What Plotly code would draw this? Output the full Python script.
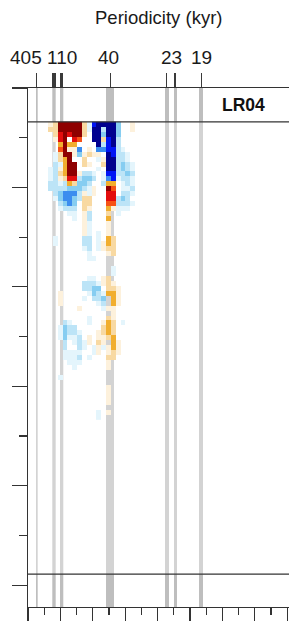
import plotly.graph_objects as go

# ---------------- data ----------------
# evolutive spectrum cells: one string per time row (top -> bottom), one char per frequency bin
# N/B/M/C/c/b = negative levels (-6..-1), y/o/O/r/R/D = positive levels (+1..+6), '.' = empty
rows = [
    "yoDDDDDobBNNNNC..y.",
    "ooDDDDDobNNcNNC..y.",
    ".oRDRDDo.NNCNNC....",
    ".yRD.Rr..NNoBNc....",
    "..ODOO....NcBNc....",
    "..rDyyM.y.MMBBcb...",
    ".boDDyCyoyy.NBccb..",
    ".boOD..o..byNNccb..",
    ".cbODD.oy..oNNcCcb.",
    "bcyODD....b.NNcCcb.",
    "bcoODDyccb.bBBccCc.",
    "bcyoRRcCCc.bMBbccb.",
    "ccbcOoCCc..cOO.bcb.",
    "ccccCCCcby..Dr.bbc.",
    ".cCMMMcyby..RR.ccb.",
    ".bCMMCcoo...RRcCc..",
    "..cCMC.oo...rrcccb.",
    "..bccc.oy...Oybbb..",
    "....bb.yc...o.b....",
    ".....b.yc...O......",
    ".......yb...y......",
    ".......yb...y......",
    ".......yb.b.y......",
    ".b.....cc.b.Oo.....",
    ".b.....cc.byOo.....",
    ".......bc.byoo.....",
    "........b...yo.....",
    "........bb.........",
    "...................",
    ".............b.....",
    ".............b.....",
    "........bb.yo......",
    ".......cccbyoy.....",
    ".......ccCC.ooy....",
    "..y.....bCcbOOy....",
    "..y....b.ccC.Oy....",
    "..y.......bc.Oy....",
    "......y....byy.....",
    ".............y.....",
    "........b...oy.....",
    "...cb...b..yOo.b...",
    "..bCcc.....oOo.....",
    "..bCccb...yoOo.....",
    "..bCbbc.y.yyoO.....",
    "...c.bcby.oy.Oy....",
    "...c..cb.bybyOy....",
    "...bbbb..by.yoy....",
    "...bbbc.b...oo.....",
    "....bbb.....y......",
    ".....b......y......",
    "...................",
    "..b................",
    "...................",
    "............y......",
    "............y......",
    "............y......",
    "............y......",
    "...................",
    "..........b.y......",
    "..........b........",
]
level_of = {'N': -6, 'B': -5, 'M': -4, 'C': -3, 'c': -2, 'b': -1,
            'y': 1, 'o': 2, 'O': 3, 'r': 4, 'R': 5, 'D': 6}
n_bins = 19
freq_first = 0.006810   # cycles/kyr, centre of first frequency bin
freq_step = 0.001473
age_first = 0.365       # centre of first time row
age_step = 0.05

# orbital periods (kyr) marked on the top axis
tick_periods = [405, 134, 128, 123, 118, 102, 98, 94.5, 40, 23.7, 22.4, 19]
label_text = ["405", "110", "40", "23", "19"]
label_periods = [405, 110, 40, 23, 19]
label_shift = [-10, 4, -2, 0, 0]

# shaded orbital bands (cycles/kyr)
band_lo = [0.00243, 0.00738, 0.00972, 0.02369, 0.04160, 0.04434, 0.05193]
band_hi = [0.00295, 0.00841, 0.01072, 0.02612, 0.04282, 0.04525, 0.05314]

panel_label = "LR04"
strip_top_end = 0.34
strip_bottom_start = 4.89
y_max = 5.22
f_max = 0.07926

# ---------------- build figure ----------------
z = [[level_of.get(ch) for ch in r.ljust(n_bins, '.')[:n_bins]] for r in rows]

palette = ["#00008F", "#0014F5", "#3C8DEF", "#86CDF1", "#BCE4F7", "#E4F5FC",
           "#FFFFFF",
           "#FDF1DC", "#F8D9A2", "#F1AE2F", "#F65216", "#E30D0D", "#8E0000"]
cs = []
for i, c in enumerate(palette):
    cs.append([i / 13, c])
    cs.append([(i + 1) / 13, c])

fig = go.Figure()
fig.add_trace(go.Heatmap(
    z=z, x0=freq_first, dx=freq_step, y0=age_first, dy=age_step,
    colorscale=cs, zmin=-6.5, zmax=6.5, showscale=False, hoverinfo="skip",
))
fig.add_trace(go.Scatter(
    x=[1 / p for p in tick_periods], y=[None] * len(tick_periods),
    xaxis="x2", yaxis="y", mode="markers", showlegend=False, hoverinfo="skip",
))

shapes = []
for lo, hi in zip(band_lo, band_hi):
    shapes.append(dict(type="rect", xref="x", yref="y", x0=lo, x1=hi,
                       y0=strip_top_end, y1=strip_bottom_start,
                       fillcolor="#D3D3D3", line=dict(width=0), layer="below"))
    shapes.append(dict(type="rect", xref="x", yref="y", x0=lo, x1=hi,
                       y0=0, y1=strip_top_end,
                       fillcolor="#BEBEBE", line=dict(width=0), layer="below"))
    shapes.append(dict(type="rect", xref="x", yref="y", x0=lo, x1=hi,
                       y0=strip_bottom_start, y1=y_max,
                       fillcolor="#BEBEBE", line=dict(width=0), layer="below"))
for yy in (strip_top_end, strip_bottom_start):
    shapes.append(dict(type="line", xref="paper", yref="y", x0=0, x1=1,
                       y0=yy, y1=yy, line=dict(color="#333333", width=1.2)))

font = "Liberation Sans, Arial, sans-serif"
ann = [dict(text="Periodicity (kyr)", xref="paper", yref="paper", x=0.5, y=1,
            yshift=70.5, showarrow=False, font=dict(size=18.5, color="#1a1a1a", family=font),
            xanchor="center", yanchor="middle"),
       dict(text="<b>%s</b>" % panel_label, xref="paper", yref="y", x=0.916,
            y=strip_top_end / 2, showarrow=False, xanchor="right", yanchor="middle",
            font=dict(size=17.5, color="#111111", family=font))]
for t, p, s in zip(label_text, label_periods, label_shift):
    ann.append(dict(text=t, xref="x", yref="paper", x=1 / p, y=1, yshift=30.5,
                    xshift=s, showarrow=False, xanchor="center", yanchor="middle",
                    font=dict(size=19, color="#1a1a1a", family=font)))

axcol = "#333333"
fig.update_layout(
    width=289, height=621, margin=dict(l=28, r=0, t=88, b=11),
    paper_bgcolor="white", plot_bgcolor="white",
    shapes=shapes, annotations=ann, showlegend=False,
    xaxis=dict(range=[0, f_max], showgrid=False, zeroline=False, showline=True,
               linecolor=axcol, linewidth=1.2, ticks="outside", tick0=0, dtick=0.00984,
               ticklen=14, tickwidth=1.2, tickcolor=axcol, showticklabels=False,
               minor=dict(ticks="outside", tick0=0, dtick=0.00492, ticklen=7,
                          tickwidth=1.2, tickcolor=axcol, showgrid=False)),
    xaxis2=dict(range=[0, f_max], overlaying="x", side="top", anchor="y",
                showgrid=False, zeroline=False, showline=True, linecolor=axcol,
                linewidth=1.2, ticks="outside", tickmode="array",
                tickvals=[1 / p for p in tick_periods], ticklen=14, tickwidth=1.1,
                tickcolor="#3a3a3a", showticklabels=False),
    yaxis=dict(range=[y_max, 0], showgrid=False, zeroline=False, showline=True,
               linecolor=axcol, linewidth=1.4, ticks="outside", tick0=0, dtick=1,
               ticklen=15, tickwidth=1.2, tickcolor=axcol, showticklabels=False,
               minor=dict(ticks="outside", tick0=0, dtick=0.5, ticklen=8,
                          tickwidth=1.2, tickcolor=axcol, showgrid=False)),
)
fig.write_html("out.html", config={"displayModeBar": False, "staticPlot": True},
               post_script="document.body.style.margin='0';document.body.style.overflow='hidden';")
